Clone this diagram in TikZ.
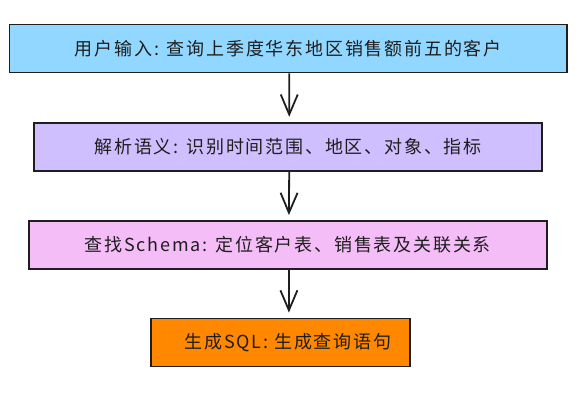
\documentclass[tikz,border=0pt]{standalone}
\usepackage{fontspec}
\newfontfamily\cjk[LetterSpace=10]{Noto Sans CJK SC}
\usetikzlibrary{arrows.meta,calc}
\definecolor{inkc}{HTML}{1E1E1E}
\definecolor{bluef}{HTML}{91D7FF}
\definecolor{violetf}{HTML}{D0BFFF}
\definecolor{pinkf}{HTML}{F5BDF7}
\definecolor{orangef}{HTML}{FF8800}
\tikzset{
  stepbox/.style={draw=inkc, line width=1.8pt, rectangle, inner sep=0pt, minimum height=48pt},
  lbl/.style={font=\cjk\fontsize{18}{20}\selectfont, text=inkc, inner sep=0pt},
  arr/.style={draw=inkc, line width=1.8pt, -{Straight Barb[length=20pt,width=17pt,line width=1.8pt]}, shorten >=5pt}
}
\begin{document}
\begin{tikzpicture}[x=1pt,y=1pt]
\useasboundingbox (0,0) rectangle (584,419);
\node[stepbox, fill=bluef, minimum width=557.5pt] (b1) at (288.3,370.4) {};
\node[lbl] (t1) at (b1.center) {用户输入: 查询上季度华东地区销售额前五的客户};
\node[stepbox, fill=violetf, minimum width=507.7pt] (b2) at (288.2,272.3) {};
\node[lbl] (t2) at (b2.center) {解析语义: 识别时间范围、地区、对象、指标};
\node[stepbox, fill=pinkf, minimum width=518.3pt] (b3) at (287.9,174) {};
\node[lbl] (t3) at (b3.center) {查找Schema: 定位客户表、销售表及关联关系};
\node[stepbox, fill=orangef, minimum width=259.3pt] (b4) at (280.3,76.5) {};
\node[lbl] (t4) at (288,76.5) {生成SQL: 生成查询语句};
\draw[arr] ($(b1.south)+(1,0)$) -- ($(b2.north)+(1,0)$);
\draw[arr] ($(b2.south)+(1,0)$) -- ($(b3.north)+(1,0)$);
\draw[arr] ($(b3.south)+(1,0)$) -- ($(b3.south |- b4.north)+(1,0)$);
\end{tikzpicture}
\end{document}
